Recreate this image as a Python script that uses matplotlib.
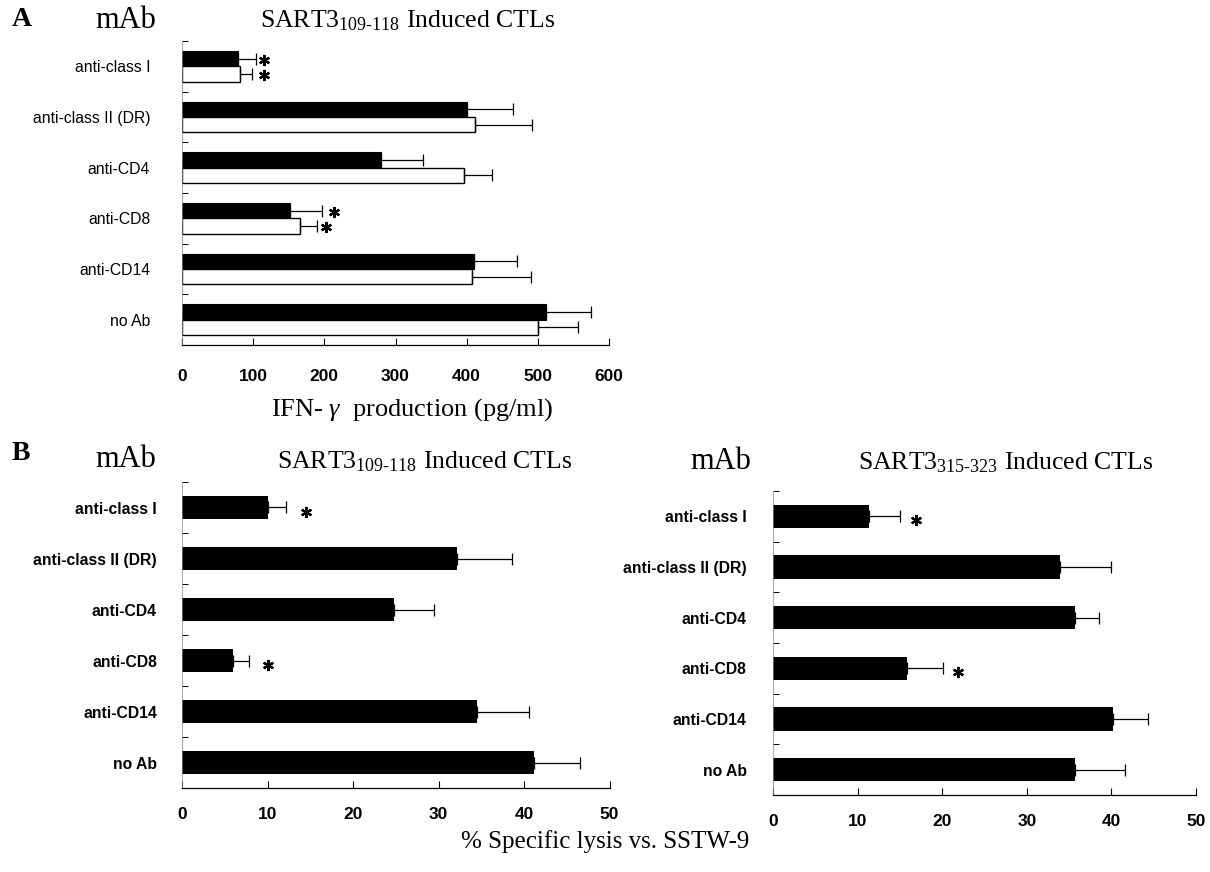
"""
SART3 诱导 CTL 的抗体阻断实验图 (A: IFN-gamma, B: 特异性杀伤)
"""

import matplotlib
matplotlib.use("Agg")
import matplotlib.pyplot as plt
import numpy as np

matplotlib.rcParams["font.family"] = ["Liberation Sans", "DejaVu Sans"]
matplotlib.rcParams["mathtext.fontset"] = "custom"
matplotlib.rcParams["mathtext.rm"] = "Liberation Serif"
matplotlib.rcParams["mathtext.it"] = "Liberation Serif:italic"

SERIF = ["Liberation Serif", "DejaVu Serif"]

# 数据
categories = ["anti-class I", "anti-class II (DR)", "anti-CD4", "anti-CD8", "anti-CD14", "no Ab"]

# A: IFN-gamma production (pg/ml), 两组 (黑 / 白)
ifn_black = [78, 401, 280, 152, 411, 512]
ifn_black_err = [26, 64, 58, 45, 60, 63]
ifn_white = [82, 412, 396, 166, 407, 500]
ifn_white_err = [16, 80, 39, 24, 83, 57]
ifn_star_black = [115, None, None, 213, None, None]
ifn_star_white = [115, None, None, 202, None, None]
ifn_ticks = [0, 100, 200, 300, 400, 500, 600]

# B: % specific lysis vs. SSTW-9
lysis_109 = [10.1, 32.2, 24.8, 6.0, 34.5, 41.2]
lysis_109_err = [2.1, 6.4, 4.7, 1.8, 6.1, 5.4]
lysis_109_star = [14.5, None, None, 10.0, None, None]
lysis_315 = [11.4, 33.9, 35.7, 15.8, 40.2, 35.7]
lysis_315_err = [3.6, 6.0, 2.8, 4.3, 4.1, 5.9]
lysis_315_star = [16.9, None, None, 21.9, None, None]
lysis_ticks = [0, 10, 20, 30, 40, 50]

W, H = 1210, 872
fig = plt.figure(figsize=(W / 100, H / 100), dpi=100)


def px_axes(x0, x1, ytop, ybot):
    """按像素坐标创建坐标轴"""
    return fig.add_axes([x0 / W, 1 - ybot / H, (x1 - x0) / W, (ybot - ytop) / H])


def style_axes(ax, xmax, ticks, label_weight, label_pad, tick_pad):
    n = len(categories)
    ax.set_xlim(0, xmax)
    ax.set_ylim(n - 0.5, -0.5)
    ax.spines["top"].set_visible(False)
    ax.spines["right"].set_visible(False)
    ax.spines["left"].set_linewidth(0.5)
    ax.spines["left"].set_color("#888888")
    ax.spines["bottom"].set_linewidth(0.9)
    ax.set_xticks(ticks)
    ax.set_xticklabels([str(t) for t in ticks], fontsize=12.5, fontweight="bold")
    ax.tick_params(axis="x", direction="in", length=5, width=0.8, pad=tick_pad)
    ax.set_yticks(np.arange(n))
    ax.set_yticklabels(categories, fontsize=11.3, fontweight=label_weight)
    ax.tick_params(axis="y", which="major", length=0, pad=label_pad)
    ax.set_yticks(np.arange(n) - 0.5, minor=True)
    ax.tick_params(axis="y", which="minor", direction="in", length=4, width=0.7)


def stars(ax, xs, ys):
    for sx, sy in zip(xs, ys):
        if sx is not None:
            ax.plot(sx, sy, marker=(6, 2, 0), ms=8, mew=1.6, color="black", ls="none")


y = np.arange(len(categories))
ekw = dict(elinewidth=0.9, capthick=0.9)

# ---- Panel A ----
axA = px_axes(182, 609, 41, 345)
hA = 0.3
axA.barh(y - hA / 2, ifn_black, height=hA, color="black", edgecolor="black", lw=0.8)
axA.barh(y + hA / 2, ifn_white, height=hA, color="white", edgecolor="black", lw=1.0)
axA.errorbar(ifn_black, y - hA / 2, xerr=[np.zeros(6), ifn_black_err], fmt="none",
             ecolor="black", capsize=4, **ekw)
axA.errorbar(ifn_white, y + hA / 2, xerr=[np.zeros(6), ifn_white_err], fmt="none",
             ecolor="black", capsize=4, **ekw)
stars(axA, ifn_star_black, y - hA / 2 + 0.03)
stars(axA, ifn_star_white, y + hA / 2 + 0.03)
style_axes(axA, 600, ifn_ticks, "normal", 23, 17)

# ---- Panel B left ----
hB = 0.46
axB1 = px_axes(182, 609.5, 482, 788)
axB1.barh(y, lysis_109, height=hB, color="black")
axB1.errorbar(lysis_109, y, xerr=[np.zeros(6), lysis_109_err], fmt="none",
              ecolor="black", capsize=4, **ekw)
stars(axB1, lysis_109_star, y + 0.08)
style_axes(axB1, 50, lysis_ticks, "bold", 18, 14)

# ---- Panel B right ----
axB2 = px_axes(773, 1196, 491, 795)
axB2.barh(y, lysis_315, height=hB, color="black")
axB2.errorbar(lysis_315, y, xerr=[np.zeros(6), lysis_315_err], fmt="none",
              ecolor="black", capsize=4, **ekw)
stars(axB2, lysis_315_star, y + 0.08)
style_axes(axB2, 50, lysis_ticks, "bold", 19, 14)

# ---- 文字标注 ----
def ftext(x, yy, s, **kw):
    fig.text(x / W, 1 - yy / H, s, **kw)


ftext(12, 20, "A", fontsize=20, fontweight="bold", family=SERIF, va="center")
ftext(12, 453, "B", fontsize=20, fontweight="bold", family=SERIF, va="center")
ftext(95, 20, "mAb", fontsize=22, family=SERIF, va="center")
ftext(95, 459, "mAb", fontsize=22, family=SERIF, va="center")
ftext(690, 461, "mAb", fontsize=22, family=SERIF, va="center")

ftext(260, 21, r"SART3$_{\mathrm{109\text{-}118}}$ Induced CTLs", fontsize=18.5, family=SERIF, va="center")
ftext(277, 462, r"SART3$_{\mathrm{109\text{-}118}}$ Induced CTLs", fontsize=18.5, family=SERIF, va="center")
ftext(858, 463, r"SART3$_{\mathrm{315\text{-}323}}$ Induced CTLs", fontsize=18.5, family=SERIF, va="center")

ftext(412, 410, r"IFN- $\gamma$  production (pg/ml)", fontsize=19, family=SERIF, ha="center", va="center")
ftext(605, 842, "% Specific lysis vs. SSTW-9", fontsize=18, family=SERIF, ha="center", va="center")

fig.savefig("out.png", dpi=100)
